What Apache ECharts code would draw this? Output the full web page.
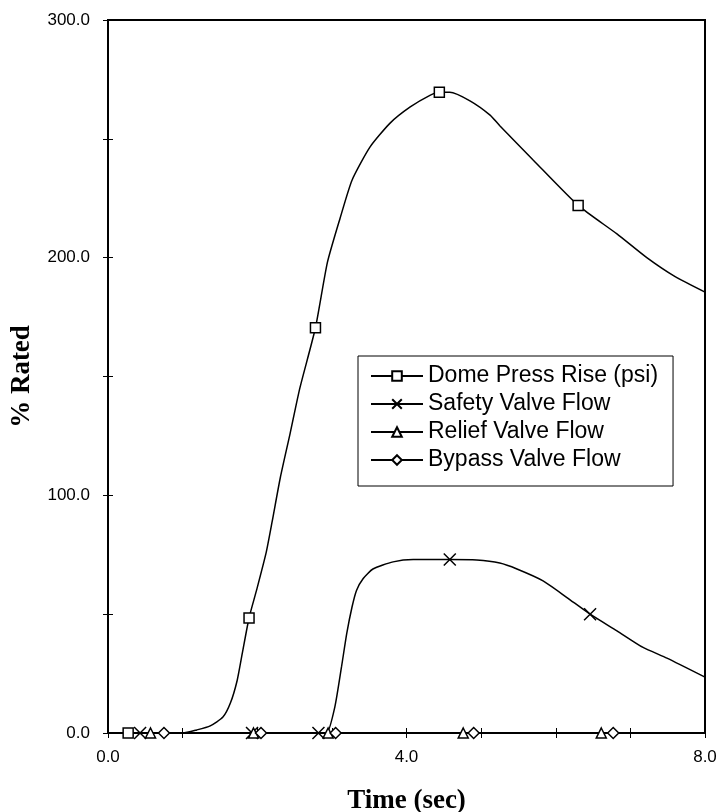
<!DOCTYPE html>
<html>
<head>
<meta charset="utf-8">
<script src="https://cdn.jsdelivr.net/npm/echarts@6/dist/echarts.min.js"></script>
<style>
  html, body { margin: 0; padding: 0; background: #fff; }
  #chart { width: 719px; height: 812px; }
</style>
</head>
<body>
<div id="chart"></div>
<script>
// series names
const seriesNames = ['Dome Press Rise (psi)', 'Safety Valve Flow', 'Relief Valve Flow', 'Bypass Valve Flow']

// Dome Press Rise (psi)
const domeT = [0, 0.27, 1.0, 1.19, 1.37, 1.54, 1.64, 1.73, 1.80, 1.89, 1.99, 2.12, 2.20, 2.31, 2.44, 2.57, 2.78, 2.94, 3.11, 3.27, 3.51, 3.78, 4.05, 4.32, 4.44, 4.58, 4.85, 5.12, 5.25, 5.70, 6.30, 6.82, 7.22, 7.60, 8.0]
const domeV = [0, 0, 0, 1.3, 3, 6.7, 12.6, 22, 33.6, 48.4, 60, 76, 89, 107.6, 126, 145, 170.5, 198, 216.6, 232.6, 246.5, 256.6, 263.4, 268.4, 269.6, 269.6, 266, 260, 255.5, 241, 222, 210, 200, 192, 185.5]
const domeMarks = [1, 9, 16, 24, 30]

// Safety Valve Flow
const safetyT = [0, 0.43, 1.93, 2.82, 2.93, 3.04, 3.13, 3.20, 3.27, 3.33, 3.42, 3.55, 3.82, 4.09, 4.58, 4.94, 5.25, 5.48, 5.83, 6.15, 6.46, 6.82, 7.17, 7.49, 8.0]
const safetyV = [0, 0, 0, 0, 0, 11, 28, 42, 53, 60, 65, 69, 72, 73, 73, 72.8, 71.5, 69, 64, 57, 50, 43, 36, 31.5, 23.5]
const safetyMarks = [1, 2, 3, 14, 20]

// Relief Valve Flow
const reliefT = [0, 0.57, 1.95, 2.95, 4.76, 6.61, 8.0]
const reliefV = [0, 0, 0, 0, 0, 0, 0]
const reliefMarks = [1, 2, 3, 4, 5]

// Bypass Valve Flow
const bypassT = [0, 0.75, 2.05, 3.05, 4.90, 6.77, 8.0]
const bypassV = [0, 0, 0, 0, 0, 0, 0]
const bypassMarks = [1, 2, 3, 4, 5]

const xTicks = { min: 0, max: 8, interval: 1, labelEvery: 4 }
const yTicks = { min: 0, max: 300, interval: 50, labelEvery: 100 }

const symbols = ['rect', 'path://M0,0L12,12M12,0L0,12', 'triangle', 'diamond']
const symbolSizes = [10, 12, 10, 11]

const buildData = (ts, vs, marks) =>
  ts.map((t, i) => marks.includes(i) ? { value: [t, vs[i]] } : { value: [t, vs[i]], symbol: 'none' })

const chart = echarts.init(document.getElementById('chart'))

const makeSeries = (idx, ts, vs, marks) => ({
  name: seriesNames[idx],
  type: 'line',
  data: buildData(ts, vs, marks),
  symbol: symbols[idx],
  symbolSize: symbolSizes[idx],
  symbolKeepAspect: true,
  showAllSymbol: true,
  smooth: 0.2,
  itemStyle: { color: '#fff', borderColor: '#000', borderWidth: 1.5 },
  lineStyle: { color: '#000', width: 1.5 },
  emphasis: { disabled: true },
  animation: false,
  z: 3
})

const labelFont = { fontFamily: 'Liberation Sans', fontSize: 17, color: '#000' }
const nameFont = { fontFamily: 'Liberation Serif', fontWeight: 'bold', fontSize: 27, color: '#000' }

const option = {
  backgroundColor: '#fff',
  animation: false,
  grid: {
    left: 108, right: 14, top: 20, bottom: 79,
    outerBoundsMode: 'none',
    containLabel: false,
    show: true, borderColor: '#000', borderWidth: 2, backgroundColor: 'transparent'
  },
  legend: {
    orient: 'vertical',
    left: 358,
    top: 356,
    padding: [8, 15, 14, 12],
    itemGap: 4,
    itemWidth: 52,
    itemHeight: 12,
    borderColor: '#000',
    borderWidth: 1,
    backgroundColor: '#fff',
    selectedMode: false,
    textStyle: { fontFamily: 'Liberation Sans', fontSize: 23, color: '#000', lineHeight: 24 },
    data: seriesNames
  },
  xAxis: [
    {
      type: 'value',
      min: xTicks.min, max: xTicks.max, interval: xTicks.interval,
      name: 'Time (sec)',
      nameLocation: 'middle',
      nameGap: 55,
      nameTextStyle: nameFont,
      axisLine: { onZero: false, lineStyle: { color: '#000', width: 2 } },
      axisTick: { inside: false, length: 5, lineStyle: { color: '#000', width: 1 } },
      axisLabel: {
        ...labelFont,
        margin: 16,
        formatter: v => (v % xTicks.labelEvery === 0 ? v.toFixed(1) : '')
      },
      splitLine: { show: false }
    },
    {
      type: 'value',
      position: 'bottom',
      min: xTicks.min, max: xTicks.max, interval: xTicks.interval,
      axisLine: { show: false },
      axisTick: { inside: true, length: 5, lineStyle: { color: '#000', width: 1 } },
      axisLabel: { show: false },
      splitLine: { show: false }
    }
  ],
  yAxis: [
    {
      type: 'value',
      min: yTicks.min, max: yTicks.max, interval: yTicks.interval,
      name: '% Rated',
      nameLocation: 'middle',
      nameGap: 72,
      nameTextStyle: nameFont,
      axisLine: { onZero: false, lineStyle: { color: '#000', width: 2 } },
      axisTick: { inside: false, length: 5, lineStyle: { color: '#000', width: 1 } },
      axisLabel: {
        ...labelFont,
        margin: 18,
        formatter: v => (v % yTicks.labelEvery === 0 ? v.toFixed(1) : '')
      },
      splitLine: { show: false }
    },
    {
      type: 'value',
      position: 'left',
      min: yTicks.min, max: yTicks.max, interval: yTicks.interval,
      axisLine: { show: false },
      axisTick: { inside: true, length: 5, lineStyle: { color: '#000', width: 1 } },
      axisLabel: { show: false },
      splitLine: { show: false }
    }
  ],
  series: [
    makeSeries(0, domeT, domeV, domeMarks),
    makeSeries(1, safetyT, safetyV, safetyMarks),
    makeSeries(2, reliefT, reliefV, reliefMarks),
    makeSeries(3, bypassT, bypassV, bypassMarks)
  ]
}

chart.setOption(option)
</script>
</body>
</html>
